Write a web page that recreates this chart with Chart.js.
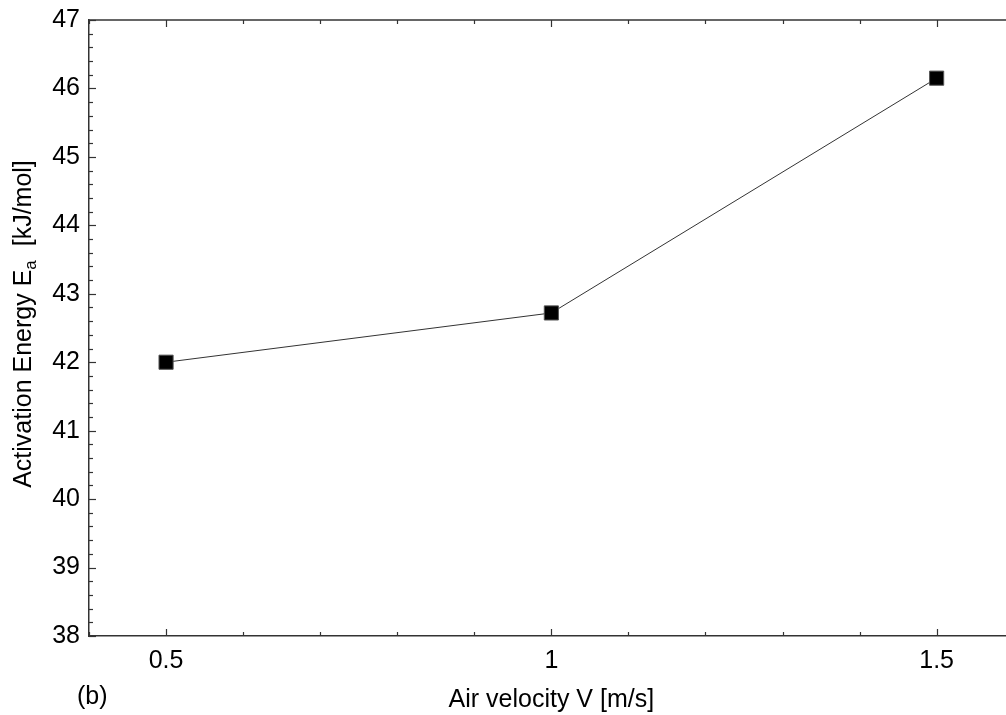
<!DOCTYPE html>
<html>
<head>
<meta charset="utf-8">
<script src="https://cdn.jsdelivr.net/npm/chart.js@4"></script>
<style>
  html, body { margin: 0; padding: 0; background: #fff; overflow: hidden; }
  canvas { display: block; }
</style>
</head>
<body>
<canvas id="chart" width="1006" height="715"></canvas>
<script>
// data
const airVelocity = [0.5, 1, 1.5];
const activationEnergy = [42.0, 42.72, 46.15];
const xTickValues = [0.5, 1, 1.5];
const xTickLabels = ["0.5", "1", "1.5"];
const yTickValues = [38, 39, 40, 41, 42, 43, 44, 45, 46, 47];

const FONT = 'Arial, "Liberation Sans", sans-serif';
const AXIS_COLOR = '#333';

// inward ticks, top border, titles and the (b) label
const decorations = {
  id: 'decorations',
  afterDraw(chart) {
    const ctx = chart.ctx;
    const area = chart.chartArea;
    const x = chart.scales.x;
    const y = chart.scales.y;
    ctx.save();
    ctx.strokeStyle = AXIS_COLOR;
    ctx.lineWidth = 1.5;

    // top border
    ctx.beginPath();
    ctx.moveTo(area.left, area.top);
    ctx.lineTo(area.right, area.top);
    ctx.stroke();

    ctx.lineWidth = 1.2;
    // x ticks, minor every 0.1 (bottom and top)
    for (let v = 0.4; v <= x.max + 1e-9; v += 0.1) {
      const px = Math.round(x.getPixelForValue(v)) + 0.5;
      const major = xTickValues.some(t => Math.abs(t - v) < 1e-6);
      const len = major ? 7 : 4;
      ctx.beginPath();
      ctx.moveTo(px, area.bottom);
      ctx.lineTo(px, area.bottom - len);
      ctx.moveTo(px, area.top);
      ctx.lineTo(px, area.top + len);
      ctx.stroke();
    }
    // y ticks, minor every 0.2 (left side; right axis lies off the picture)
    for (let v = y.min; v <= y.max + 1e-9; v += 0.2) {
      const py = Math.round(y.getPixelForValue(v)) + 0.5;
      const major = yTickValues.some(t => Math.abs(t - v) < 1e-6);
      const len = major ? 7 : 4;
      ctx.beginPath();
      ctx.moveTo(area.left, py);
      ctx.lineTo(area.left + len, py);
      ctx.stroke();
    }

    ctx.fillStyle = '#000';
    ctx.textBaseline = 'alphabetic';

    // x title
    ctx.font = '25px ' + FONT;
    ctx.textAlign = 'center';
    ctx.fillText('Air velocity V [m/s]', x.getPixelForValue(1), 707);

    // (b)
    ctx.textAlign = 'left';
    ctx.fillText('(b)', 77, 704);

    // y title with subscript
    const main = 'Activation Energy E';
    const tail = '  [kJ/mol]';
    ctx.font = '25px ' + FONT;
    const w1 = ctx.measureText(main).width;
    const w3 = ctx.measureText(tail).width;
    ctx.font = '17px ' + FONT;
    const w2 = ctx.measureText('a').width;
    const total = w1 + w2 + w3;
    ctx.translate(31, 324);
    ctx.rotate(-Math.PI / 2);
    let cx = -total / 2;
    ctx.font = '25px ' + FONT;
    ctx.fillText(main, cx, 0);
    cx += w1;
    ctx.font = '17px ' + FONT;
    ctx.fillText('a', cx, 5);
    cx += w2;
    ctx.font = '25px ' + FONT;
    ctx.fillText(tail, cx, 0);
    ctx.restore();
  }
};

new Chart(document.getElementById('chart'), {
  type: 'line',
  data: {
    datasets: [{
      data: airVelocity.map((v, i) => ({ x: v, y: activationEnergy[i] })),
      borderColor: '#333',
      borderWidth: 1,
      pointStyle: 'rect',
      pointRadius: 10,
      pointHoverRadius: 10,
      pointBackgroundColor: '#000',
      pointBorderColor: '#555',
      pointBorderWidth: 1,
      tension: 0,
      fill: false
    }]
  },
  options: {
    responsive: false,
    animation: false,
    devicePixelRatio: 1,
    layout: { autoPadding: false, padding: { top: 20, left: 0, right: 0, bottom: 0 } },
    plugins: {
      legend: { display: false },
      tooltip: { enabled: false }
    },
    scales: {
      x: {
        type: 'linear',
        min: 0.4,
        max: 1.59,
        afterFit(scale) {
          scale.height = 79;
          scale.paddingLeft = 0;
          scale.paddingRight = 0;
        },
        afterBuildTicks(scale) { scale.ticks = xTickValues.map(v => ({ value: v })); },
        grid: { display: false, drawTicks: false },
        border: { display: true, color: AXIS_COLOR, width: 1.5 },
        ticks: {
          color: '#000',
          font: { size: 25, family: FONT },
          padding: 10,
          maxRotation: 0,
          callback: (v) => xTickLabels[xTickValues.indexOf(v)] ?? ''
        }
      },
      y: {
        min: 38,
        max: 47,
        afterFit(scale) {
          scale.width = 89;
          scale.paddingTop = 0;
          scale.paddingBottom = 0;
        },
        afterBuildTicks(scale) { scale.ticks = yTickValues.map(v => ({ value: v })); },
        grid: { display: false, drawTicks: false },
        border: { display: true, color: AXIS_COLOR, width: 1.5 },
        ticks: {
          color: '#000',
          font: { size: 25, family: FONT },
          padding: 9
        }
      }
    }
  },
  plugins: [decorations]
});
</script>
</body>
</html>
